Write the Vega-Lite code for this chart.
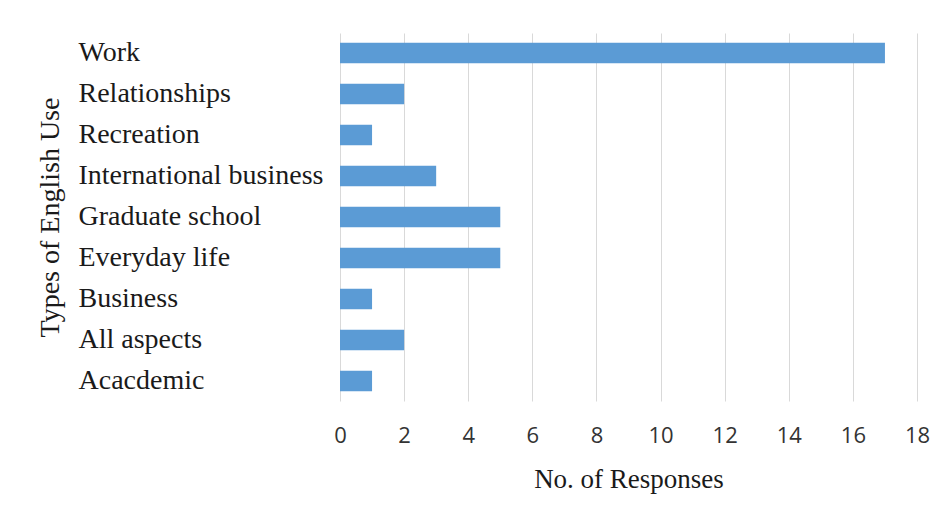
{
  "$schema": "https://vega.github.io/schema/vega-lite/v6.json",
  "autosize": {"type": "none"},
  "width": 577,
  "height": 368,
  "padding": {"left": 340, "top": 33, "right": 26, "bottom": 111},
  "background": "white",
  "config": {"view": {"stroke": null}},
  "data": {
    "values": [
      {"type": "Work", "responses": 17},
      {"type": "Relationships", "responses": 2},
      {"type": "Recreation", "responses": 1},
      {"type": "International business", "responses": 3},
      {"type": "Graduate school", "responses": 5},
      {"type": "Everyday life", "responses": 5},
      {"type": "Business", "responses": 1},
      {"type": "All aspects", "responses": 2},
      {"type": "Acacdemic", "responses": 1}
    ]
  },
  "mark": {"type": "bar", "color": "#5B9BD5"},
  "encoding": {
    "y": {
      "field": "type",
      "type": "nominal",
      "sort": ["Work", "Relationships", "Recreation", "International business", "Graduate school", "Everyday life", "Business", "All aspects", "Acacdemic"],
      "scale": {"paddingInner": 0.5, "paddingOuter": 0.24},
      "axis": {
        "title": "Types of English Use",
        "titleFont": "Liberation Serif",
        "titleFontSize": 28,
        "titleFontWeight": "normal",
        "titleColor": "#1a1a1a",
        "titleX": -276,
        "titleY": 184,
        "titleAngle": -90,
        "titleAlign": "center",
        "titleBaseline": "bottom",
        "labelFont": "Liberation Serif",
        "labelFontSize": 28,
        "labelColor": "#1a1a1a",
        "labelAlign": "left",
        "labelPadding": 262,
        "labelLimit": 400,
        "ticks": false,
        "tickSize": 0,
        "domain": false,
        "grid": false
      }
    },
    "x": {
      "field": "responses",
      "type": "quantitative",
      "scale": {"domain": [0, 18], "nice": false},
      "axis": {
        "title": "No. of Responses",
        "titleFont": "Liberation Serif",
        "titleFontSize": 27,
        "titleFontWeight": "normal",
        "titleColor": "#1a1a1a",
        "titlePadding": 20,
        "values": [0, 2, 4, 6, 8, 10, 12, 14, 16, 18],
        "labelFont": "Open Sans",
        "labelFontSize": 22,
        "labelColor": "#333333",
        "labelPadding": 24,
        "labelFlush": false,
        "ticks": false,
        "tickSize": 0,
        "domain": false,
        "grid": true,
        "gridColor": "#D9D9D9",
        "gridWidth": 1
      }
    }
  }
}
